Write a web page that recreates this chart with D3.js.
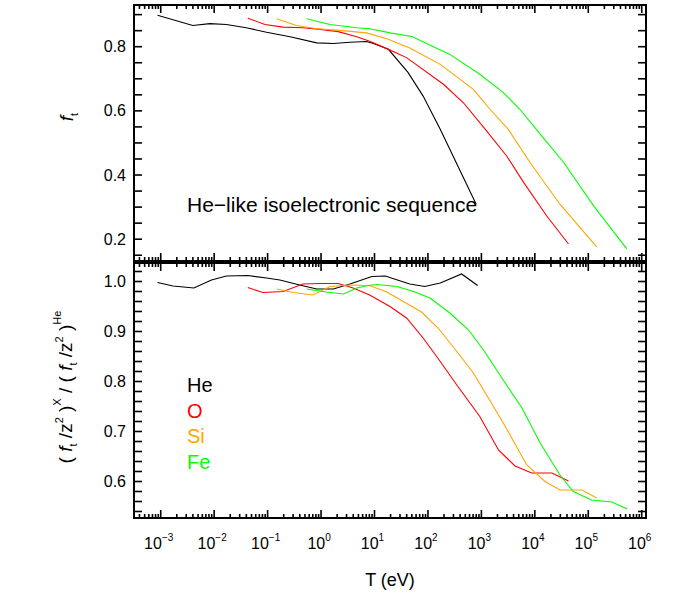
<!DOCTYPE html>
<html>
<head>
	<meta charset="utf-8">
	<title>He-like isoelectronic sequence</title>
	<style>
		body { margin: 0; background: #fff; }
		text { font-family: "Liberation Sans", Arial, Helvetica, sans-serif; }
	</style>
</head>
<body>
	<script src="https://d3js.org/d3.v7.min.js"></script>
	<script>
		// values; T given as log10(T / eV)
		var heTopLogT = [-3.06, -2.4, -2.08, -1.77, -1.4, -1.02, -0.58, -0.08, 0.23, 0.54, 0.85, 0.98, 1.26, 1.63, 1.91, 2.23, 2.9];
		var heTop = [0.898, 0.866, 0.872, 0.869, 0.859, 0.845, 0.831, 0.812, 0.810, 0.814, 0.816, 0.810, 0.792, 0.719, 0.646, 0.543, 0.31];
		var oTopLogT = [-1.37, -1.05, -0.71, -0.34, -0.02, 0.32, 0.67, 0.91, 1.23, 1.6, 2.29, 2.66, 3.07, 3.47, 3.79, 4.22, 4.63];
		var oTop = [0.889, 0.869, 0.861, 0.859, 0.854, 0.847, 0.831, 0.817, 0.794, 0.766, 0.683, 0.626, 0.543, 0.460, 0.377, 0.273, 0.185];
		var siTopLogT = [-0.83, -0.46, -0.08, 0.35, 0.85, 1.23, 1.66, 2.23, 2.85, 3.16, 3.5, 3.91, 4.47, 5.16];
		var siTop = [0.887, 0.866, 0.856, 0.851, 0.843, 0.825, 0.796, 0.745, 0.667, 0.605, 0.543, 0.439, 0.309, 0.175];
		var feTopLogT = [-0.27, 0.17, 0.67, 0.91, 1.29, 1.7, 2.41, 2.97, 3.41, 3.72, 4.0, 4.54, 5.1, 5.72];
		var feTop = [0.887, 0.869, 0.859, 0.856, 0.843, 0.832, 0.776, 0.714, 0.657, 0.605, 0.548, 0.439, 0.304, 0.170];

		var heBotLogT = [-3.06, -2.77, -2.38, -2.05, -1.77, -1.37, -1.02, -0.77, -0.4, -0.08, 0.23, 0.54, 0.95, 1.2, 1.66, 1.94, 2.23, 2.63, 2.93];
		var heBot = [0.998, 0.991, 0.987, 1.003, 1.011, 1.012, 1.007, 1.003, 0.993, 0.985, 0.985, 0.995, 1.010, 1.011, 0.995, 0.990, 0.997, 1.015, 0.992];
		var oBotLogT = [-1.37, -1.09, -0.71, -0.34, -0.02, 0.32, 0.6, 0.91, 1.29, 1.6, 1.91, 2.23, 2.54, 2.97, 3.32, 3.63, 3.94, 4.32, 4.63];
		var oBot = [0.988, 0.978, 0.980, 0.995, 0.996, 0.996, 0.987, 0.973, 0.950, 0.927, 0.887, 0.840, 0.793, 0.730, 0.663, 0.631, 0.617, 0.617, 0.601];
		var siBotLogT = [-0.83, -0.52, -0.15, 0.17, 0.54, 0.91, 1.23, 1.54, 1.88, 2.19, 2.54, 2.85, 3.41, 3.85, 4.19, 4.47, 4.88, 5.16];
		var siBot = [0.985, 0.978, 0.973, 0.990, 0.993, 0.992, 0.979, 0.960, 0.939, 0.907, 0.860, 0.817, 0.717, 0.633, 0.600, 0.583, 0.583, 0.567];
		var feBotLogT = [-0.27, 0.1, 0.42, 0.67, 0.88, 1.04, 1.42, 1.73, 2.04, 2.41, 2.76, 3.04, 3.47, 3.76, 4.1, 4.47, 4.72, 5.06, 5.44, 5.73];
		var feBot = [0.985, 0.979, 0.975, 0.987, 0.992, 0.994, 0.990, 0.980, 0.967, 0.937, 0.903, 0.863, 0.793, 0.747, 0.677, 0.613, 0.580, 0.563, 0.559, 0.545];

		var elements = ["He", "O", "Si", "Fe"];
		var colors = ["#000000", "#ff0000", "#ffa500", "#00ff00"];
		var xExponents = [-3, -2, -1, 0, 1, 2, 3, 4, 5, 6];
		var topTicks = [0.2, 0.4, 0.6, 0.8];
		var botTicks = [0.6, 0.7, 0.8, 0.9, 1.0];

		var topSeries = [[heTopLogT, heTop], [oTopLogT, oTop], [siTopLogT, siTop], [feTopLogT, feTop]];
		var botSeries = [[heBotLogT, heBot], [oBotLogT, oBot], [siBotLogT, siBot], [feBotLogT, feBot]];

		var svg = d3.select("body").append("svg")
			.attr("width", 676)
			.attr("height", 594);

		var x = d3.scaleLog()
			.domain([Math.pow(10, -3.5), Math.pow(10, 6.08)])
			.range([134, 646]);
		var yTop = d3.scaleLinear().domain([0.132, 0.93]).range([261, 5]);
		var yBot = d3.scaleLinear().domain([0.527, 1.037]).range([518, 263]);

		// minor x ticks: 2..9 times each decade inside the domain
		var xMinor = [];
		for (var e = -4; e <= 6; e++) {
			for (var m = 2; m <= 9; m++) {
				var v = m * Math.pow(10, e);
				if (v > x.domain()[0] && v < x.domain()[1]) xMinor.push(v);
			}
		}

		function panel(y, yMajor, yMinorStep, series) {
			var g = svg.append("g");
			var x0 = x.range()[0], x1 = x.range()[1];
			var yb = y.range()[0], yt = y.range()[1];

			var line = d3.line()
				.x(function(d) { return x(Math.pow(10, d[0])); })
				.y(function(d) { return y(d[1]); });
			series.forEach(function(s, i) {
				g.append("path")
					.datum(d3.zip(s[0], s[1]))
					.attr("d", line)
					.attr("fill", "none")
					.attr("stroke", colors[i])
					.attr("stroke-width", 1.1);
			});

			// x ticks, top and bottom, pointing in
			xExponents.forEach(function(ex) {
				var px = x(Math.pow(10, ex));
				g.append("line").attr("x1", px).attr("x2", px).attr("y1", yb).attr("y2", yb - 8);
				g.append("line").attr("x1", px).attr("x2", px).attr("y1", yt).attr("y2", yt + 8);
			});
			xMinor.forEach(function(v) {
				var px = x(v);
				g.append("line").attr("x1", px).attr("x2", px).attr("y1", yb).attr("y2", yb - 4);
				g.append("line").attr("x1", px).attr("x2", px).attr("y1", yt).attr("y2", yt + 4);
			});

			// y ticks, left and right
			var d = y.domain();
			var start = Math.ceil(d[0] / yMinorStep - 1e-6);
			for (var k = start; k * yMinorStep <= d[1] + 1e-9; k++) {
				var py = y(k * yMinorStep);
				g.append("line").attr("x1", x0).attr("x2", x0 + 8).attr("y1", py).attr("y2", py);
				g.append("line").attr("x1", x1).attr("x2", x1 - 8).attr("y1", py).attr("y2", py);
			}
			yMajor.forEach(function(t) {
				g.append("text")
					.attr("x", x0 - 8)
					.attr("y", y(t) + 5.5)
					.attr("text-anchor", "end")
					.attr("font-size", 16)
					.text(t.toFixed(1));
			});

			g.selectAll("line")
				.attr("stroke", "#000")
				.attr("stroke-width", 1.6);

			g.append("rect")
				.attr("x", x0).attr("y", yt)
				.attr("width", x1 - x0).attr("height", yb - yt)
				.attr("fill", "none")
				.attr("stroke", "#000")
				.attr("stroke-width", 2);
			return g;
		}

		panel(yTop, topTicks, 0.05, topSeries);
		panel(yBot, botTicks, 0.02, botSeries);

		// x tick labels: 10 with superscript exponent
		xExponents.forEach(function(ex) {
			var t = svg.append("text")
				.attr("x", x(Math.pow(10, ex)) - 2)
				.attr("y", 549)
				.attr("text-anchor", "middle")
				.attr("font-size", 16);
			t.append("tspan").text("10");
			t.append("tspan")
				.attr("dy", -8)
				.attr("font-size", 10)
				.text(String(ex).replace("-", "\u2212"));
		});

		svg.append("text")
			.attr("x", 390)
			.attr("y", 586)
			.attr("text-anchor", "middle")
			.attr("font-size", 18)
			.text("T (eV)");

		svg.append("text")
			.attr("x", 187)
			.attr("y", 212)
			.attr("font-size", 21)
			.text("He\u2212like isoelectronic sequence");

		elements.forEach(function(name, i) {
			svg.append("text")
				.attr("x", 187)
				.attr("y", 392 + i * 25.5)
				.attr("font-size", 20)
				.attr("fill", colors[i])
				.text(name);
		});

		// rotated y titles, pieces = [text, shift (+ up), size, italic]
		function rich(t, pieces) {
			var cur = 0;
			pieces.forEach(function(p) {
				var ts = t.append("tspan")
					.attr("dy", cur - p[1])
					.attr("font-size", p[2])
					.text(p[0]);
				if (p[3]) ts.attr("font-style", "italic");
				cur = p[1];
			});
		}

		var t1 = svg.append("text")
			.attr("transform", "translate(73,117) rotate(-90)")
			.attr("text-anchor", "middle");
		rich(t1, [["f", 0, 19, true], ["t", -5, 11, false]]);

		var t2 = svg.append("text")
			.attr("transform", "translate(72,387) rotate(-90)")
			.attr("text-anchor", "middle");
		rich(t2, [
			["( ", 0, 19], ["f", 0, 19, true], ["t", -5, 11], [" /z", 0, 19], ["2", 9, 11], [" )", 0, 19], ["X", 11, 11],
			[" / ( ", 0, 19], ["f", 0, 19, true], ["t", -5, 11], [" /z", 0, 19], ["2", 9, 11], [" )", 0, 19], ["He", 11, 11]
		]);
	</script>
</body>
</html>
